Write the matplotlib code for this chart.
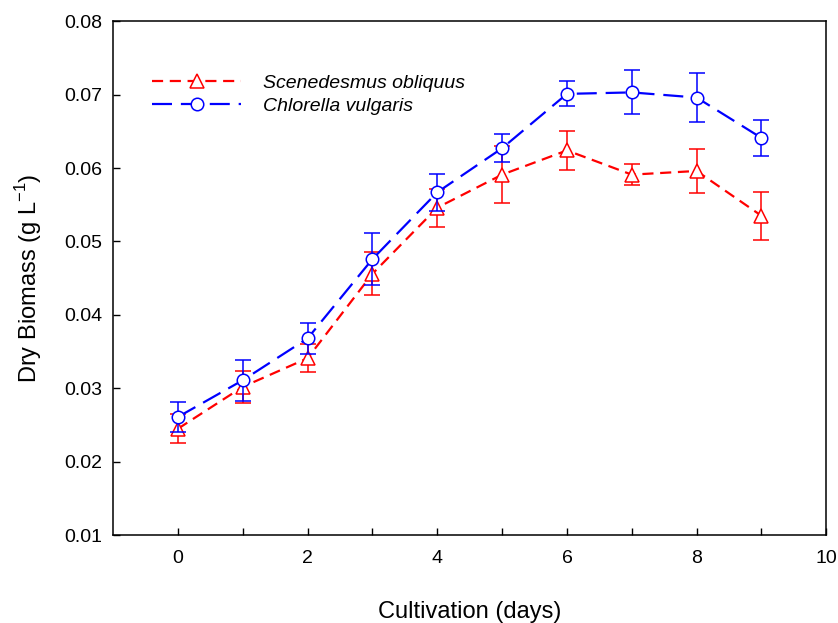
import matplotlib
matplotlib.use("Agg")
import matplotlib.pyplot as plt
from matplotlib.lines import Line2D

plt.rcParams['font.family'] = ['Liberation Sans', 'DejaVu Sans']

days = [0, 1, 2, 3, 4, 5, 6, 7, 8, 9]
scen_mean = [0.0245, 0.0302, 0.0341, 0.0456, 0.0546, 0.0591, 0.0624, 0.0591, 0.0596, 0.0535]
scen_err = [0.0020, 0.0022, 0.0019, 0.0029, 0.0026, 0.0039, 0.0027, 0.0014, 0.0030, 0.0033]
chl_mean = [0.0261, 0.0311, 0.0368, 0.0476, 0.0567, 0.0627, 0.0701, 0.0703, 0.0696, 0.0641]
chl_err = [0.0020, 0.0028, 0.0021, 0.0035, 0.0025, 0.0019, 0.0017, 0.0030, 0.0033, 0.0025]
labels = ['Scenedesmus obliquus', 'Chlorella vulgaris']

fig = plt.figure(figsize=(8.38, 6.23), dpi=100)
ax = fig.add_axes([0.135, 0.141, 0.851, 0.825])

red_style = dict(color='#ff0000', linestyle=(0, (5, 3)), linewidth=1.6, marker='^',
                 markersize=9.5, markerfacecolor='white', markeredgecolor='#ff0000',
                 markeredgewidth=1.1)
blue_style = dict(color='#0000ff', linestyle=(0, (9, 4)), linewidth=1.6, marker='o',
                  markersize=9, markerfacecolor='white', markeredgecolor='#0000ff',
                  markeredgewidth=1.1)

ax.errorbar(days, scen_mean, yerr=scen_err, ecolor='#ff0000', capsize=6,
            elinewidth=1.1, capthick=1.1, zorder=3, **red_style)
ax.errorbar(days, chl_mean, yerr=chl_err, ecolor='#0000ff', capsize=6,
            elinewidth=1.1, capthick=1.1, zorder=4, **blue_style)

ax.set_xlim(-1, 10)
ax.set_ylim(0.01, 0.08)
ax.set_xticks([0, 2, 4, 6, 8, 10])
ax.set_xticks([1, 3, 5, 7, 9], minor=True)
ax.set_yticks([0.01, 0.02, 0.03, 0.04, 0.05, 0.06, 0.07, 0.08])
ax.set_yticklabels(['0.01', '0.02', '0.03', '0.04', '0.05', '0.06', '0.07', '0.08'])
ax.tick_params(axis='both', which='major', direction='in', length=5, width=1,
               labelsize=14, top=False, right=False, pad=8)
ax.tick_params(axis='x', which='major', pad=11)
ax.tick_params(axis='x', which='minor', direction='in', length=5, width=1, top=False)
for s in ax.spines.values():
    s.set_linewidth(1.1)

ax.set_xlabel('Cultivation (days)', fontsize=17, labelpad=24)
ax.set_ylabel('Dry Biomass (g L$^{\\mathregular{-1}}$)', fontsize=17, labelpad=14)

handles = [Line2D([], [], **red_style), Line2D([], [], **blue_style)]
ax.legend(handles, labels, loc='upper left', bbox_to_anchor=(0.03, 0.93), frameon=False,
          handlelength=4.6, handletextpad=1.1, labelspacing=0.25,
          prop={'style': 'italic', 'size': 14})

fig.savefig('out.png', dpi=100)
